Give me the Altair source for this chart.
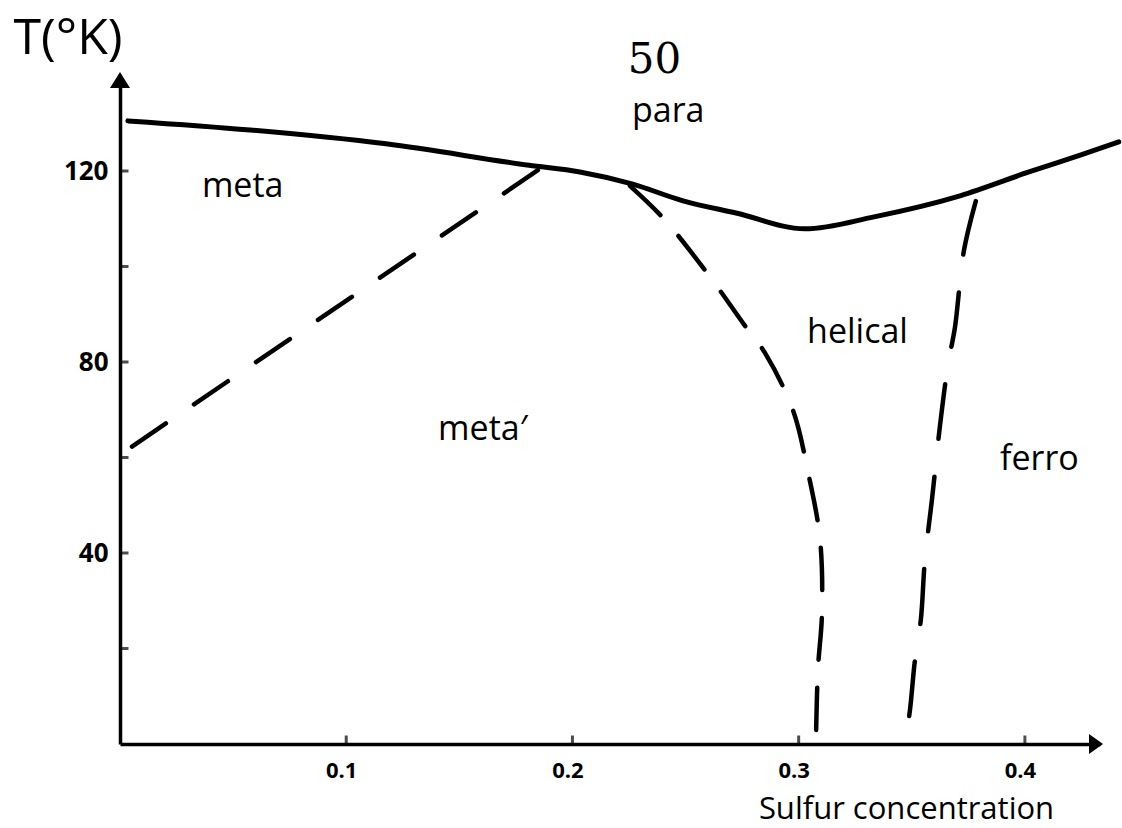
import altair as alt
import pandas as pd

# Axis extents (arrow tips) in data units
X_MAX = 0.4332
T_MAX = 139.06

# Paramagnetic transition line (solid)
para_c = [0.0035, 0.0575, 0.1176, 0.1808, 0.2033, 0.2263, 0.2493, 0.2723,
          0.3028, 0.3333, 0.3713, 0.4018, 0.4248, 0.4415]
para_T = [130.5, 128.6, 125.7, 121.2, 119.8, 117.3, 113.7, 111.2,
          107.9, 110.4, 114.8, 119.8, 123.4, 126.1]

# meta / meta' boundary (dashed)
meta_c = [0.0053, 0.1848]
meta_T = [62.3, 120.2]

# meta' / helical boundary (dashed)
helical_c = [0.2254, 0.2400, 0.2599, 0.2767, 0.2851, 0.2975, 0.3041,
             0.3094, 0.3103, 0.3085, 0.3076]
helical_T = [116.9, 110.2, 98.4, 87.3, 81.9, 69.9, 57.0,
             43.1, 27.4, 15.5, 0.0]

# helical / ferro boundary (dashed)
ferro_c = [0.3783, 0.3730, 0.3691, 0.3660, 0.3624, 0.3589, 0.3558,
           0.3540, 0.3514, 0.3492, 0.3470]
ferro_T = [113.7, 103.2, 87.3, 79.4, 66.4, 51.1, 38.5,
           26.0, 17.6, 7.1, 0.0]

# Axis ticks and labels
x_ticks = [0.1, 0.2, 0.3, 0.4]
y_ticks = [20, 40, 60, 80, 100, 120]
y_labels = [40, 80, 120]

# Phase names, anchored at their left baseline
region_names = ["para", "meta", "meta′", "helical", "ferro"]
region_c = [0.2263, 0.0362, 0.1406, 0.3037, 0.3890]
region_T = [130.3, 114.6, 63.7, 84.0, 57.4]

page_number = "50"
page_c = 0.2245
page_T = 140.5

FONT = "Open Sans"

x_scale = alt.Scale(domain=[0, X_MAX], nice=False, zero=False)
y_scale = alt.Scale(domain=[0, T_MAX], nice=False, zero=False)


def path_df(c, t):
    return pd.DataFrame({"c": c, "T": t, "i": list(range(len(c)))})


x_axis = alt.Axis(
    values=x_ticks, format=".1f", grid=False, ticks=False,
    domainColor="black", domainWidth=3.5,
    labelFont=FONT, labelFontSize=22, labelFontWeight="bold", labelColor="black",
    labelPadding=16, labelOffset=-5, labelBaseline="top",
    title="Sulfur concentration", titleFont=FONT, titleFontSize=31,
    titleFontWeight="normal", titleColor="black",
    titleX=786, titleY=74, titleAlign="center", titleBaseline="alphabetic",
)
y_axis = alt.Axis(
    values=y_labels, grid=False, ticks=False,
    domainColor="black", domainWidth=3.5,
    labelFont=FONT, labelFontSize=26, labelFontWeight="bold", labelColor="black",
    labelPadding=12,
    title="T(°K)", titleFont=FONT, titleFontSize=50, titleFontWeight="normal",
    titleColor="black", titleAngle=0, titleX=-107, titleY=-27,
    titleAlign="left", titleBaseline="alphabetic",
)

para = alt.Chart(path_df(para_c, para_T)).mark_line(
    color="black", strokeWidth=5, interpolate="monotone", strokeCap="round"
).encode(
    x=alt.X("c:Q", scale=x_scale, axis=x_axis),
    y=alt.Y("T:Q", scale=y_scale, axis=y_axis),
    order="i:Q",
)


def dashed(c, t, dash):
    return alt.Chart(path_df(c, t)).mark_line(
        color="black", strokeWidth=4.5, strokeDash=dash,
        interpolate="catmull-rom", strokeCap="round",
    ).encode(
        x=alt.X("c:Q", scale=x_scale),
        y=alt.Y("T:Q", scale=y_scale),
        order="i:Q",
    )


meta_line = dashed(meta_c, meta_T, [41, 34])
helical_line = dashed(helical_c, helical_T, [42, 28])
ferro_line = dashed(ferro_c, ferro_T, [55, 38])

# Inward tick marks on both axes
xt = alt.Chart(pd.DataFrame({"c": x_ticks, "T": [0] * len(x_ticks)})).mark_tick(
    orient="vertical", color="black", size=9, thickness=3, yOffset=-4
).encode(x=alt.X("c:Q", scale=x_scale), y=alt.Y("T:Q", scale=y_scale))

yt = alt.Chart(pd.DataFrame({"c": [0] * len(y_ticks), "T": y_ticks})).mark_tick(
    orient="horizontal", color="black", size=9, thickness=3, xOffset=4
).encode(x=alt.X("c:Q", scale=x_scale), y=alt.Y("T:Q", scale=y_scale))

# Arrow heads at the ends of the axes
x_arrow = alt.Chart(pd.DataFrame({"c": [X_MAX], "T": [0]})).mark_point(
    shape="M0.3,0L-1.1,-1L-1.1,1Z", size=400, filled=True, color="black", opacity=1
).encode(x=alt.X("c:Q", scale=x_scale), y=alt.Y("T:Q", scale=y_scale))

y_arrow = alt.Chart(pd.DataFrame({"c": [0], "T": [T_MAX]})).mark_point(
    shape="M0,-0.8L-1,0.8L1,0.8Z", size=400, filled=True, color="black", opacity=1
).encode(x=alt.X("c:Q", scale=x_scale), y=alt.Y("T:Q", scale=y_scale))

labels = alt.Chart(pd.DataFrame({"c": region_c, "T": region_T, "name": region_names})).mark_text(
    font=FONT, fontSize=34, color="black", align="left", baseline="alphabetic"
).encode(
    x=alt.X("c:Q", scale=x_scale), y=alt.Y("T:Q", scale=y_scale), text="name:N"
)

page = alt.Chart(pd.DataFrame({"c": [page_c], "T": [page_T], "t": [page_number]})).mark_text(
    font="DejaVu Serif", fontSize=42, color="black", align="left", baseline="alphabetic"
).encode(
    x=alt.X("c:Q", scale=x_scale), y=alt.Y("T:Q", scale=y_scale), text="t:N"
)

chart = alt.layer(
    para, meta_line, helical_line, ferro_line, xt, yt, x_arrow, y_arrow, labels, page
).properties(
    width=980,
    height=664,
    autosize=alt.AutoSizeParams(type="none"),
    padding={"left": 120, "top": 80, "right": 22, "bottom": 84},
    background="white",
).configure_view(stroke=None, clip=False)

chart.save("out.html", embed_options={"renderer": "svg", "actions": False})
